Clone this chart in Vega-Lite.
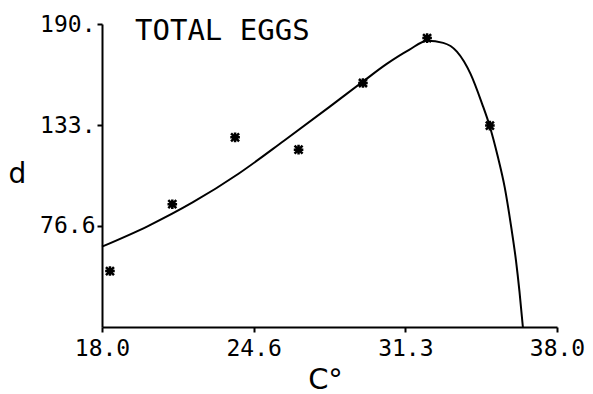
{
  "$schema": "https://vega.github.io/schema/vega-lite/v6.json",
  "autosize": {"type": "none"},
  "width": 455,
  "height": 303,
  "padding": {"left": 102, "top": 24, "right": 36, "bottom": 67},
  "background": "white",
  "title": {"text": "TOTAL EGGS", "anchor": "start", "frame": "group", "font": "DejaVu Sans Mono", "fontSize": 29, "fontWeight": "normal", "color": "black", "dx": 33, "dy": 60, "baseline": "alphabetic"},
  "config": {"view": {"stroke": null}},
  "datasets": {
    "curve": [
      {"t": 18.0, "d": 65.1},
      {"t": 20.0, "d": 76.5},
      {"t": 22.0, "d": 90.0},
      {"t": 24.0, "d": 106.0},
      {"t": 26.0, "d": 124.5},
      {"t": 28.0, "d": 143.5},
      {"t": 29.5, "d": 158.0},
      {"t": 30.5, "d": 167.5},
      {"t": 31.5, "d": 175.5},
      {"t": 32.3, "d": 180.6},
      {"t": 33.0, "d": 179.4},
      {"t": 33.6, "d": 174.5},
      {"t": 34.2, "d": 162.0},
      {"t": 34.7, "d": 145.5},
      {"t": 35.05, "d": 132.4},
      {"t": 35.4, "d": 115.5},
      {"t": 35.7, "d": 98.5},
      {"t": 36.0, "d": 75.0},
      {"t": 36.2, "d": 57.0},
      {"t": 36.35, "d": 40.0},
      {"t": 36.5, "d": 20.0}
    ],
    "obs": [
      {"t": 18.35, "d": 51.4},
      {"t": 21.09, "d": 88.9},
      {"t": 23.85, "d": 126.4},
      {"t": 26.64, "d": 119.5},
      {"t": 29.47, "d": 156.9},
      {"t": 32.29, "d": 182.1},
      {"t": 35.05, "d": 133.0}
    ]
  },
  "encoding": {
    "x": {"field": "t", "type": "quantitative",
      "scale": {"domain": [18, 38], "nice": false, "zero": false},
      "axis": {"values": [18, 24.6667, 31.3333, 38],
        "labelExpr": "datum.value < 20 ? '18.0' : datum.value < 28 ? '24.6' : datum.value < 35 ? '31.3' : '38.0'",
        "labelFont": "DejaVu Sans Mono", "labelFontSize": 23, "labelColor": "black", "labelPadding": 5,
        "labelFlush": false, "labelOverlap": false,
        "tickSize": 5, "tickWidth": 2, "tickColor": "black", "domainColor": "black", "domainWidth": 2, "grid": false,
        "title": "C°", "titleFont": "DejaVu Sans", "titleFontSize": 29, "titleFontWeight": "normal", "titleColor": "black",
        "titleX": 223, "titleY": 61, "titleAlign": "center", "titleBaseline": "alphabetic"}},
    "y": {"field": "d", "type": "quantitative",
      "scale": {"domain": [20, 190], "nice": false, "zero": false},
      "axis": {"values": [76.6667, 133.3333, 190],
        "labelExpr": "datum.value > 180 ? '190.' : datum.value > 120 ? '133.' : '76.6'",
        "labelFont": "DejaVu Sans Mono", "labelFontSize": 23, "labelColor": "black", "labelPadding": 2,
        "tickSize": 5, "tickWidth": 2, "tickColor": "black", "domainColor": "black", "domainWidth": 2, "grid": false,
        "title": "d", "titleFont": "DejaVu Sans", "titleFontSize": 28, "titleFontWeight": "normal", "titleColor": "black",
        "titleAngle": 0, "titleX": -85, "titleY": 150, "titleAlign": "center", "titleBaseline": "middle"}}
  },
  "layer": [
    {"data": {"name": "curve"}, "mark": {"type": "line", "color": "black", "strokeWidth": 2, "interpolate": "monotone"}},
    {"data": {"name": "obs"}, "mark": {"type": "point", "shape": "M-1,-1L1,1M-1,1L1,-1M0,-1.2L0,1.2M-1.2,0L1.2,0", "size": 64, "filled": false, "color": "black", "strokeWidth": 2.5, "opacity": 1}}
  ]
}
